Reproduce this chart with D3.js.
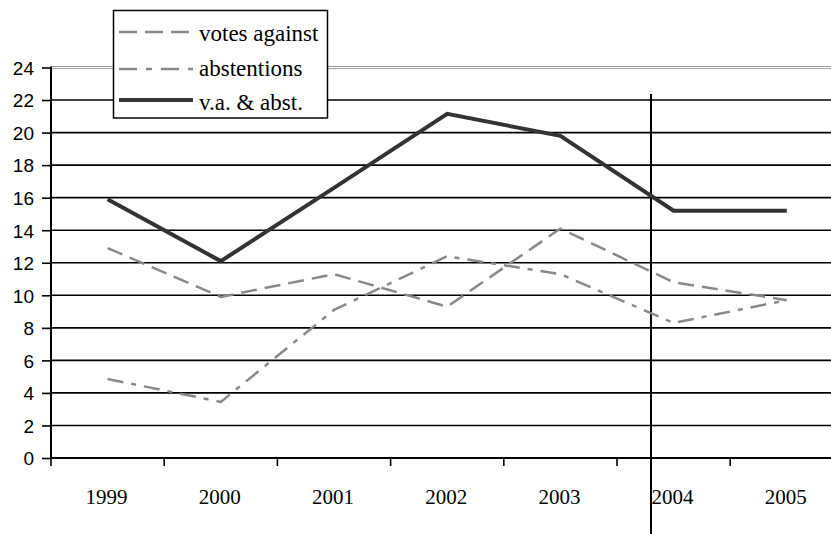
<!DOCTYPE html>
<html><head><meta charset="utf-8">
<script src="https://cdn.jsdelivr.net/npm/d3@7"></script>
<style>body{margin:0;background:#fff}svg{display:block}</style>
</head><body>
<svg id="c" width="831" height="534"></svg>
<script>
const years = ["1999","2000","2001","2002","2003","2004","2005"];
const votesAgainst = [12.9, 9.9, 11.3, 9.3, 14.1, 10.8, 9.7];
const abstentions = [4.85, 3.45, 9.1, 12.4, 11.3, 8.3, 9.7];
const vaAbst = [15.9, 12.1, 16.6, 21.15, 19.8, 15.2, 15.2];
const yTicks = [0,2,4,6,8,10,12,14,16,18,20,22,24];
const seriesNames = ["votes against", "abstentions", "v.a. & abst."];

const SERIF = "Liberation Serif";
const SANS = "Liberation Sans";

const svg = d3.select("#c");
const x = d3.scaleBand().domain(years).range([51, 51 + 7*113.2]).padding(0);
const y = d3.scaleLinear().domain([0, 24]).range([458, 67.5]);

// gridlines
const grid = svg.append("g");
yTicks.filter(t => t > 0 && t < 24).forEach(t => {
  grid.append("line").attr("x1", 51).attr("x2", 831).attr("y1", y(t)).attr("y2", y(t))
    .attr("stroke", "#000").attr("stroke-width", 1.6);
});
// top border (double grey)
[y(24) - 1, y(24) + 1.2].forEach(yy => {
  grid.append("line").attr("x1", 51).attr("x2", 831).attr("y1", yy).attr("y2", yy)
    .attr("stroke", "#999").attr("stroke-width", 1);
});

// y axis
const yAxis = d3.axisLeft(y).tickValues(yTicks).tickSize(9).tickFormat(d3.format("d"));
const gy = svg.append("g").attr("transform", "translate(51,0)").call(yAxis);
gy.select(".domain").attr("stroke", "#000").attr("stroke-width", 2).attr("d", `M0,${y(24)-1}V${y(0)}`);
gy.selectAll(".tick line").attr("stroke", "#000").attr("stroke-width", 1.6);
gy.selectAll(".tick text").style("font-family", SANS)
  .style("font-size", "19px").attr("fill", "#000").attr("x", -17).attr("dy", "0.36em");

// x axis
const gx = svg.append("g").attr("transform", `translate(0,${y(0)})`);
gx.append("line").attr("x1", 51).attr("x2", 831).attr("y1", 0).attr("y2", 0)
  .attr("stroke", "#000").attr("stroke-width", 2);
const bounds = years.map(yv => x(yv)).concat([x(years[years.length-1]) + x.bandwidth()]);
bounds.forEach(b => {
  gx.append("line").attr("x1", b).attr("x2", b).attr("y1", 0).attr("y2", 8)
    .attr("stroke", "#000").attr("stroke-width", 1.6);
});
years.forEach(yv => {
  gx.append("text").attr("x", x(yv) + x.bandwidth()/2 - 1).attr("y", 46)
    .attr("text-anchor", "middle").style("font-family", SERIF).style("font-size", "21px")
    .attr("fill", "#000").text(yv);
});

// vertical marker line
svg.append("line").attr("x1", 651).attr("x2", 651).attr("y1", 94).attr("y2", 534)
  .attr("stroke", "#000").attr("stroke-width", 2);

const line = d3.line().x((d, i) => x(years[i]) + x.bandwidth()/2).y(d => y(d));
const styles = [
  {data: votesAgainst, stroke: "#888", width: 2.5, dash: "16,8"},
  {data: abstentions, stroke: "#888", width: 2.5, dash: "16,8,5,8"},
  {data: vaAbst, stroke: "#333", width: 4, dash: null}
];
styles.forEach(s => {
  svg.append("path").datum(s.data).attr("d", line).attr("fill", "none")
    .attr("stroke", s.stroke).attr("stroke-width", s.width)
    .attr("stroke-dasharray", s.dash).attr("stroke-linejoin", "miter");
});

// legend
const lg = svg.append("g");
lg.append("rect").attr("x", 113.5).attr("y", 10.5).attr("width", 214).attr("height", 107.5)
  .attr("fill", "#fff").attr("stroke", "#000").attr("stroke-width", 1.5);
const lys = [32, 69, 100];
const tys = [41, 76, 110];
seriesNames.forEach((n, i) => {
  const s = styles[i];
  lg.append("line").attr("x1", 119).attr("x2", 193).attr("y1", lys[i]).attr("y2", lys[i])
    .attr("stroke", s.stroke).attr("stroke-width", s.width).attr("stroke-dasharray", i===0 ? "18,8" : (i===1 ? "18,9,6,9" : null));
  lg.append("text").attr("x", 199).attr("y", tys[i])
    .style("font-family", SERIF).style("font-size", "23px").attr("fill", "#000").text(n);
});
</script>
</body></html>
